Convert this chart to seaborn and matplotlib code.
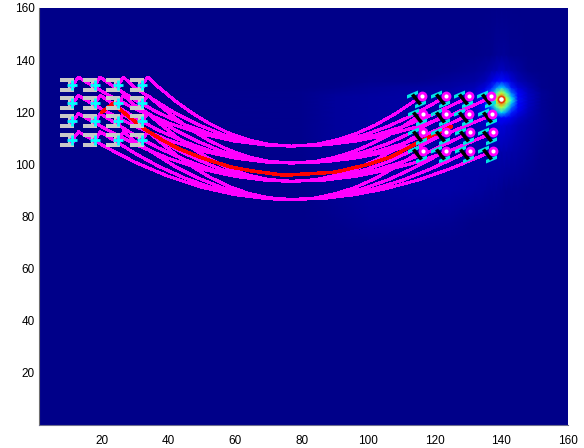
import numpy as np
import matplotlib
matplotlib.use("Agg")
import matplotlib.pyplot as plt
from matplotlib.path import Path
import seaborn as sns

field_x = [1, 80, 90, 100, 115, 125, 132, 135, 137, 138.5, 140, 141.5, 143, 145, 148, 152, 156, 160]
field_y = [0, 70, 78, 90, 105, 115, 118, 120, 122, 123.5, 124.7, 126, 127.5, 129.5, 132, 136, 142, 160]
field = [
    [.01, .01, .01, .01, .01, .01, .01, .01, .01, .01, .01, .01, .01, .01, .01, .01, .01, .01],
    [.01, .01, .01, .01, .01, .01, .01, .01, .01, .01, .01, .01, .01, .01, .01, .01, .01, .01],
    [.01, .01, .012, .022, .022, .016, .01, .01, .01, .01, .01, .01, .01, .01, .01, .01, .01, .01],
    [.01, .01, .022, .03, .032, .032, .028, .024, .022, .02, .018, .015, .015, .012, .01, .01, .01, .01],
    [.01, .012, .024, .03, .034, .034, .036, .036, .04, .04, .04, .04, .036, .032, .026, .012, .01, .01],
    [.01, .012, .024, .03, .034, .036, .045, .055, .065, .075, .08, .07, .06, .045, .032, .02, .01, .01],
    [.01, .012, .024, .03, .034, .04, .05, .07, .09, .11, .13, .11, .09, .065, .04, .022, .01, .01],
    [.01, .012, .024, .03, .034, .04, .055, .09, .16, .26, .35, .26, .16, .09, .05, .022, .01, .01],
    [.01, .012, .024, .03, .034, .04, .06, .11, .24, .42, .6, .42, .24, .11, .055, .022, .01, .01],
    [.01, .012, .024, .03, .034, .04, .06, .13, .32, .55, .8, .55, .32, .13, .06, .022, .01, .01],
    [.01, .012, .024, .03, .034, .04, .06, .14, .38, .62, .95, .62, .38, .14, .06, .022, .01, .01],
    [.01, .012, .024, .03, .034, .04, .06, .13, .32, .55, .8, .55, .32, .13, .06, .022, .01, .01],
    [.01, .012, .02, .026, .032, .04, .06, .11, .24, .42, .6, .42, .24, .11, .055, .02, .01, .01],
    [.01, .01, .015, .02, .03, .035, .05, .08, .15, .25, .33, .25, .15, .08, .045, .015, .01, .01],
    [.01, .01, .01, .012, .015, .025, .035, .05, .08, .11, .14, .11, .08, .05, .03, .012, .01, .01],
    [.01, .01, .01, .01, .01, .012, .02, .03, .04, .05, .06, .05, .04, .03, .015, .01, .01, .01],
    [.01, .01, .01, .01, .01, .01, .01, .012, .015, .02, .02, .02, .015, .012, .01, .01, .01, .01],
    [.01, .01, .01, .01, .01, .01, .01, .01, .01, .01, .01, .01, .01, .01, .01, .01, .01, .01],
]
target_x = [140]
target_y = [124.9]

# x stations of the trajectories, one list per start column
traj_x = [
    [11.3, 13, 17, 22, 30, 40, 50, 60, 70, 77, 84, 90, 96, 102, 108, 114.5],
    [18.1, 19.5, 24, 30, 37, 45, 53, 62, 70, 77, 85, 92, 99, 106, 113, 121.7],
    [25.0, 26.5, 30, 35, 42, 49, 56, 63, 70, 77, 86, 94, 102, 110, 119, 128.6],
    [32.2, 33.8, 37, 42, 47, 52, 58, 64, 70, 77, 87, 96, 105, 115, 125, 135.4],
]
# y of each trajectory, row by row, one list per column
row1_y = [
    [130.5, 133.5, 130.3, 126.6, 121.3, 115.9, 111.7, 108.9, 107.3, 107, 107.6, 109.2, 111.6, 115, 119.3, 124.8],
    [130.5, 133.5, 129.5, 124.7, 119.8, 115.2, 111.6, 108.8, 107.4, 107, 107.6, 109, 111.4, 114.6, 118.7, 124.8],
    [130.5, 133.5, 129.3, 125.3, 119.7, 115.2, 111.6, 109, 107.5, 107, 107.5, 108.9, 111.2, 114.3, 118.9, 124.8],
    [130.5, 133.5, 129.7, 124.4, 119.8, 115.9, 112.1, 109.4, 107.7, 107, 107.5, 108.9, 111.1, 114.5, 119, 124.8],
]
row2_y = [
    [123.5, 126.5, 123.3, 119.8, 114.6, 109.3, 105.2, 102.4, 100.8, 100.5, 101.1, 102.7, 105.1, 108.5, 112.5, 118],
    [123.5, 126.5, 122.7, 118, 113.1, 108.6, 105, 102.3, 100.9, 100.5, 101.1, 102.5, 104.9, 108, 112.2, 118],
    [123.5, 126.5, 122.6, 118.7, 113.2, 108.7, 105, 102.5, 101, 100.5, 101, 102.4, 104.7, 107.8, 112.3, 118],
    [123.5, 126.5, 123, 117.8, 113.2, 109.3, 105.6, 102.9, 101.2, 100.5, 101, 102.4, 104.6, 108, 112.5, 118],
]
row3_y = [
    [116.5, 119.5, 116.6, 113, 107.7, 102.3, 98.2, 95.4, 93.8, 93.5, 94.1, 95.7, 98.1, 101.5, 105.7, 111],
    [116.5, 119.5, 115.9, 111.1, 106.3, 101.7, 98, 95.3, 93.9, 93.5, 94.1, 95.5, 97.9, 101, 105.2, 111],
    [116.5, 119.5, 115.7, 111.7, 106.1, 101.7, 98, 95.5, 94, 93.5, 94, 95.4, 97.7, 100.8, 105.3, 111],
    [116.5, 119.5, 116.1, 110.9, 106.3, 102.4, 98.6, 95.9, 94.2, 93.5, 94, 95.4, 97.6, 101, 105.5, 111],
]
row4_y = [
    [109.5, 112.5, 109.7, 106.1, 100.8, 95.4, 91.2, 88.4, 86.8, 86.5, 87.1, 88.7, 91.1, 94.5, 98.8, 104],
    [109.5, 112.5, 109, 104.2, 99.3, 94.7, 91.1, 88.3, 86.9, 86.5, 87.1, 88.5, 90.9, 94.1, 98.2, 104],
    [109.5, 112.5, 108.8, 104.8, 99.2, 94.7, 91.1, 88.5, 87, 86.5, 87, 88.4, 90.7, 93.8, 98.4, 104],
    [109.5, 112.5, 109.2, 103.9, 99.3, 95.4, 91.6, 88.9, 87.2, 86.5, 87, 88.4, 90.6, 94, 98.5, 104],
]
red_x = [20, 23.5, 25.7, 33, 38.6, 43.7, 50, 58.7, 65, 73.7, 77, 90, 100, 107, 113, 119, 125]
red_y = [120, 123.5, 120.8, 113.4, 109, 105.7, 102.5, 99, 97.5, 96, 96, 97, 100, 103, 107, 111, 114.5]

# start markers
start_x = [9.6, 16.5, 23.4, 30.6] * 4
start_y = [130.5] * 4 + [123.5] * 4 + [116.5] * 4 + [109.5] * 4
plus_x = [11.2, 18.1, 25.0, 32.2] * 4
plus_y = start_y

# end markers
end_x = [116.2, 123.4, 130.3, 137.0, 116.4, 123.4, 130.3, 137.3,
         116.4, 123.4, 130.5, 137.4, 116.4, 123.4, 130.5, 137.4]
end_y = [126.2] * 4 + [119.3] * 4 + [112.3] * 4 + [105.2] * 4
beam_x = [114.5, 121.7, 128.6, 135.3, 114.7, 121.7, 128.6, 135.6,
          114.7, 121.7, 128.8, 135.7, 114.7, 121.7, 128.8, 135.7]
beam_y = [124.9] * 4 + [118.0] * 4 + [111.0] * 4 + [103.9] * 4

xticks = [20, 40, 60, 80, 100, 120, 140, 160]
yticks = [20, 40, 60, 80, 100, 120, 140, 160]


def poly(verts):
    return Path(np.array(verts + [verts[0]], dtype=float), closed=True)


GRAY_BEAM = poly([(-7, 6.5), (7, 6.5), (7, 2.5), (5.5, 2.5), (5.5, -2.5), (7, -2.5), (7, -6.5), (-7, -6.5),
                  (-7, -2.5), (0.5, -2.5), (0.5, 2.5), (-7, 2.5)])
STEM = poly([(-5.5, 4), (-2.5, 6), (5.5, -4), (2.5, -6)])
FLANGES = Path(np.array([(-9.5, 0.8), (1.5, 5.4), (1.5, 9.0), (-9.5, 4.4), (-9.5, 0.8),
                         (-1.5, -9.0), (9.5, -4.4), (9.5, -0.8), (-1.5, -5.4), (-1.5, -9.0)], dtype=float),
               [Path.MOVETO, Path.LINETO, Path.LINETO, Path.LINETO, Path.CLOSEPOLY] * 2)

sns.set_style("white")
plt.rcParams["font.family"] = ["Liberation Sans", "DejaVu Sans"]

fig = plt.figure(figsize=(5.84, 4.48), dpi=100)
ax = fig.add_axes([38.5 / 584, 23 / 448, 529.5 / 584, 417 / 448])

ax.pcolormesh(field_x, field_y, np.array(field), cmap="jet", vmin=0, vmax=1, shading="gouraud", zorder=1)

# trajectories
for col, xs in enumerate(traj_x):
    for rows in [row1_y, row2_y, row3_y, row4_y]:
        sns.lineplot(x=xs, y=rows[col], color="#ff00ff", lw=1.5, sort=False, estimator=None,
                     antialiased=False, ax=ax, zorder=3)
sns.lineplot(x=red_x, y=red_y, color="#ff0000", lw=1.8, sort=False, estimator=None,
             antialiased=False, ax=ax, zorder=4)

# start markers
sns.scatterplot(x=start_x, y=start_y, marker=GRAY_BEAM, s=102, color="#c8c8c8", linewidth=0,
                antialiased=False, ax=ax, zorder=5)
sns.scatterplot(x=plus_x, y=plus_y, marker="o", s=22, color="#ff00ff", linewidth=0, ax=ax, zorder=6)
sns.scatterplot(x=plus_x, y=plus_y, marker="+", s=45, color="#00ffff", linewidth=2, ax=ax, zorder=7)

# end markers
sns.scatterplot(x=beam_x, y=beam_y, marker=FLANGES, s=187, color="#00e5e5", linewidth=0,
                antialiased=False, ax=ax, zorder=5)
sns.scatterplot(x=beam_x, y=beam_y, marker=STEM, s=75, color="black", linewidth=0, ax=ax, zorder=6)
sns.scatterplot(x=end_x, y=end_y, marker="o", s=50, color="#ff00ff", linewidth=0, ax=ax, zorder=7)
sns.scatterplot(x=end_x, y=end_y, marker="o", s=9, color="white", linewidth=0, ax=ax, zorder=8)

# target
sns.scatterplot(x=target_x, y=target_y, marker="o", s=20, color="white", edgecolor="#e8400a", linewidth=1.2, ax=ax, zorder=8)

ax.set_xlim(1, 160)
ax.set_ylim(0, 160)
ax.set_xticks(xticks)
ax.set_yticks(yticks)
ax.tick_params(length=0, labelsize=8.5, colors="black")
ax.tick_params(axis="x", pad=7)
ax.tick_params(axis="y", pad=2.5)
for s in ax.spines.values():
    s.set_visible(False)
ax.spines["left"].set_visible(True)
ax.spines["left"].set_color("#707070")
ax.spines["left"].set_linewidth(0.8)
ax.spines["bottom"].set_visible(True)
ax.spines["bottom"].set_color("#707090")
ax.spines["bottom"].set_linewidth(0.8)

plt.savefig("out.png", dpi=100)
